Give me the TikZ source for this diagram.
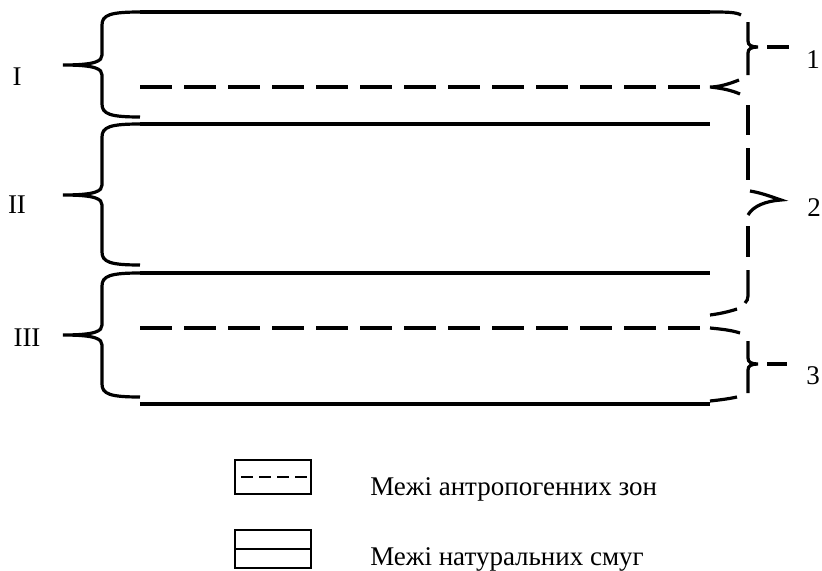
\documentclass[tikz,border=0pt]{standalone}
\usepackage{fontspec}
\setmainfont{Liberation Serif}
% Braces on the left: #1 top end, #2 tip, #3 bottom end (y in px, downwards)
\newcommand\drawleftbrace[3]{%
  \draw[curly] (140,#1) .. controls (110,#1) and (102,#1+3) .. (102,#1+13)
    -- (102,#2-10) .. controls (102,#2-4) and (96,#2) .. (63,#2)
    .. controls (96,#2) and (102,#2+4) .. (102,#2+10)
    -- (102,#3-13) .. controls (102,#3-3) and (110,#3) .. (140,#3);}
\begin{document}
\begin{tikzpicture}[x=0.75pt,y=-0.75pt,
  bound solid/.style={line width=2.4pt},
  bound dashed/.style={line width=2.4pt, dash pattern=on 24pt off 9pt},
  curly/.style={line width=2.4pt},
  legend box/.style={line width=1.1pt},
  label/.style={font=\fontsize{20.25}{23}\selectfont, inner sep=0pt}]
\useasboundingbox (0,0) rectangle (822,571);

% boundaries of the strips and zones
\draw[bound solid]  (140,12)  -- (710,12);
\draw[bound dashed] (140,87)  -- (700,87);
\draw[bound solid]  (140,124) -- (710,124);
\draw[bound solid]  (140,273) -- (710,273);
\draw[bound dashed] (140,328) -- (700,328);
\draw[bound solid]  (140,404) -- (710,404);

% natural strips (left braces)
\drawleftbrace{12}{65}{117}
\drawleftbrace{124}{195}{265}
\drawleftbrace{273}{335}{397}

% anthropogenic zones (broken right braces)
% zone 1
\draw[curly] (710,12) .. controls (726,12) and (736,12) .. (741,15);
\draw[curly] (748,22) -- (748,41) .. controls (748,45) and (751,47) .. (758,47)
  .. controls (751,47) and (748,49) .. (748,53) -- (748,75);
\draw[curly] (767,47) -- (789,47);
\draw[curly] (739,80) .. controls (729,84) and (719,87) .. (710,87)
  .. controls (720,88) and (731,90) .. (740,94);
% zone 2
\draw[curly] (748,105) -- (748,135);
\draw[curly] (748,148) -- (748,180);
\draw[curly] (750,191) .. controls (762,193) and (772,197) .. (781,200)
  .. controls (766,201) and (753,206) .. (748,215);
\draw[curly] (748,226) -- (748,257);
\draw[curly] (748,270) -- (748,296) .. controls (748,299) and (747,301) .. (745,303);
\draw[curly] (737,309) .. controls (728,312) and (718,314) .. (710,315);
% zone 3
\draw[curly] (710,328) .. controls (720,329) and (731,330) .. (740,333);
\draw[curly] (748,341) -- (748,358) .. controls (748,362) and (751,364) .. (758,364)
  .. controls (751,364) and (748,366) .. (748,370) -- (748,393);
\draw[curly] (767,364) -- (787,364);
\draw[curly] (737,397) .. controls (728,399) and (719,400) .. (710,401);

% labels
\node[label] (stripI)   at (17,77)  {I};
\node[label] (stripII)  at (17,205) {II};
\node[label] (stripIII) at (27,338) {III};
\node[label] (zone1) at (813,60)  {1};
\node[label] (zone2) at (814,208) {2};
\node[label] (zone3) at (813,376) {3};

% legend
\draw[legend box] (235,460) rectangle (311,494);
\draw[legend box, dash pattern=on 9pt off 4.5pt] (241,477) -- (311,477);
\draw[legend box] (235,530) rectangle (311,568);
\draw[legend box] (235,549) -- (311,549);
\node[label, anchor=base west] (legZones)  at (370,495) {Межі антропогенних зон};
\node[label, anchor=base west] (legStrips) at (370,565) {Межі натуральних смуг};
\end{tikzpicture}
\end{document}
